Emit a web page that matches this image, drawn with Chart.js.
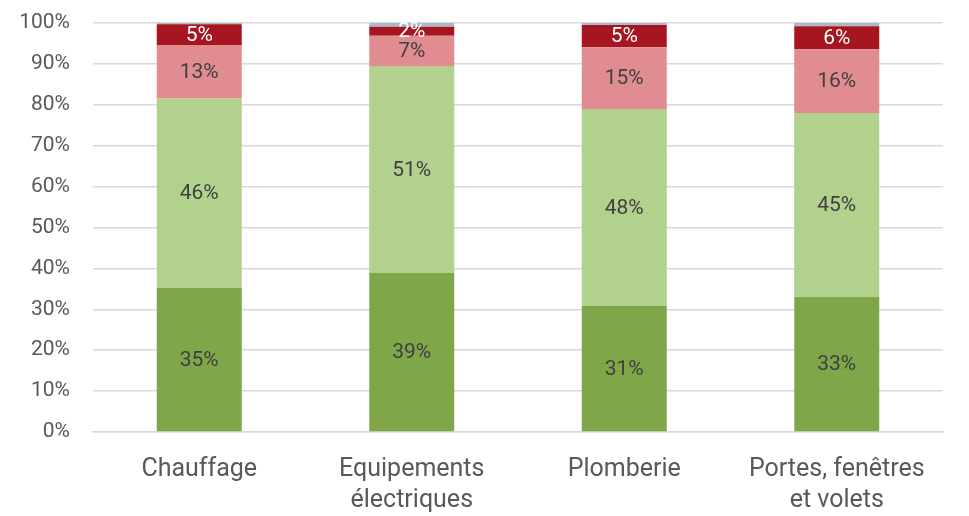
<!DOCTYPE html>
<html>
<head>
<meta charset="utf-8">
<script src="https://cdn.jsdelivr.net/npm/chart.js@4"></script>
<style>
    html, body { margin: 0; padding: 0; background: #fff; }
    #wrap { width: 969px; height: 516px; }
</style>
</head>
<body>
<div id="wrap"><canvas id="chart" width="969" height="516"></canvas></div>
<script>
const categories = ['Chauffage', ['Equipements', 'électriques'], 'Plomberie', ['Portes, fenêtres', 'et volets']];

const seriesDarkGreen = [35.2, 38.9, 30.8, 33.0];
const seriesLightGreen = [46.4, 50.6, 48.2, 45.0];
const seriesPink = [13.0, 7.4, 15.1, 15.6];
const seriesRed = [5.1, 2.2, 5.4, 5.6];
const seriesGrey = [0.3, 0.9, 0.5, 0.8];

const yTicks = [0, 10, 20, 30, 40, 50, 60, 70, 80, 90, 100];

const fontFamily = 'Roboto, "Liberation Sans", sans-serif';

// draws the % labels in the middle of each segment
const segmentLabels = {
    id: 'segmentLabels',
    afterDatasetsDraw(chart) {
        const ctx = chart.ctx;
        ctx.save();
        ctx.font = '21px ' + fontFamily;
        ctx.textAlign = 'center';
        ctx.textBaseline = 'middle';
        chart.data.datasets.forEach((ds, i) => {
            if (!ds.labelColor) return;
            const meta = chart.getDatasetMeta(i);
            meta.data.forEach((bar, j) => {
                const props = bar.getProps(['x', 'y', 'base'], true);
                ctx.fillStyle = ds.labelColor;
                ctx.fillText(Math.round(ds.data[j]) + '%', props.x, (props.y + props.base) / 2 + 1);
            });
        });
        ctx.restore();
    }
};

new Chart(document.getElementById('chart'), {
    type: 'bar',
    data: {
        labels: categories,
        datasets: [
            { data: seriesDarkGreen, backgroundColor: '#7FA74A', labelColor: '#404040' },
            { data: seriesLightGreen, backgroundColor: '#B1D18C', labelColor: '#404040' },
            { data: seriesPink, backgroundColor: '#E08C91', labelColor: '#404040' },
            { data: seriesRed, backgroundColor: '#A51621', labelColor: '#ffffff' },
            { data: seriesGrey, backgroundColor: '#ADB9CA' }
        ].map(ds => Object.assign(ds, { barPercentage: 0.4, categoryPercentage: 1.0, borderWidth: 0 }))
    },
    options: {
        responsive: false,
        animation: false,
        layout: { padding: { top: 23, right: 26, bottom: 0, left: 0 } },
        plugins: {
            legend: { display: false },
            tooltip: { enabled: false }
        },
        scales: {
            x: {
                stacked: true,
                grid: { display: false },
                border: { color: '#D9D9D9', width: 1.5 },
                ticks: {
                    color: '#595959',
                    font: { family: fontFamily, size: 25, lineHeight: 1.25 },
                    padding: 14,
                    maxRotation: 0,
                    autoSkip: false
                },
                afterFit(scale) { scale.height = 84; }
            },
            y: {
                stacked: true,
                min: 0,
                max: 100,
                afterBuildTicks(scale) { scale.ticks = yTicks.map(v => ({ value: v })); },
                grid: { color: '#D9D9D9', lineWidth: 1.5, tickLength: 0, drawTicks: false },
                border: { display: false },
                ticks: {
                    color: '#595959',
                    font: { family: fontFamily, size: 21 },
                    padding: 23,
                    callback: v => v + '%'
                },
                afterFit(scale) {
                    scale.width = 93;
                    scale.paddingTop = 0;
                    scale.paddingBottom = 0;
                }
            }
        }
    },
    plugins: [segmentLabels]
});
</script>
</body>
</html>
